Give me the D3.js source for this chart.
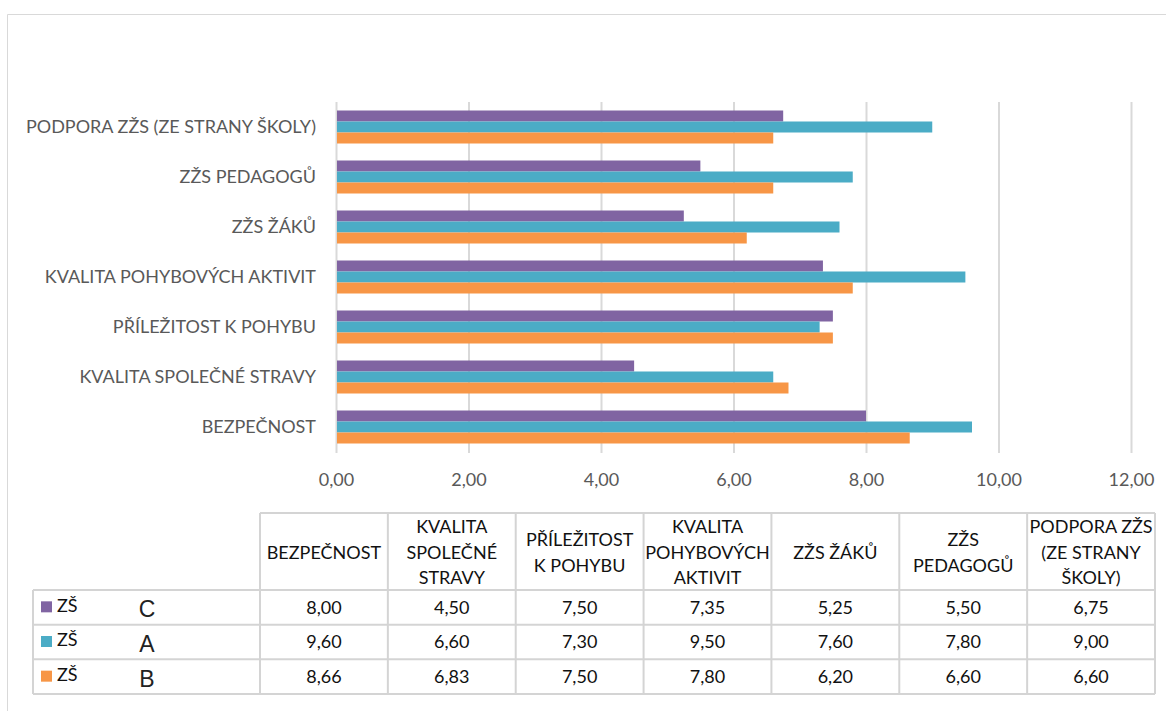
<!DOCTYPE html>
<html>
<head>
<meta charset="utf-8">
<script src="https://cdn.jsdelivr.net/npm/d3@7"></script>
<style>
  body { margin: 0; background: #fff; }
  svg { display: block; }
</style>
</head>
<body>
<div id="chart"></div>
<script>
// categories bottom -> top as in the table order
const categories = [
  "BEZPEČNOST",
  "KVALITA SPOLEČNÉ STRAVY",
  "PŘÍLEŽITOST K POHYBU",
  "KVALITA POHYBOVÝCH AKTIVIT",
  "ZŽS ŽÁKŮ",
  "ZŽS PEDAGOGŮ",
  "PODPORA ZŽS (ZE STRANY ŠKOLY)"
];
// wrapped header text used in the data table
const headerLines = [
  ["BEZPEČNOST"],
  ["KVALITA", "SPOLEČNÉ", "STRAVY"],
  ["PŘÍLEŽITOST", "K POHYBU"],
  ["KVALITA", "POHYBOVÝCH", "AKTIVIT"],
  ["ZŽS ŽÁKŮ"],
  ["ZŽS", "PEDAGOGŮ"],
  ["PODPORA ZŽS", "(ZE STRANY", "ŠKOLY)"]
];
const seriesNames = ["ZŠ C", "ZŠ A", "ZŠ B"];
const seriesLetters = ["C", "A", "B"];
const seriesColors = ["#8064A2", "#4BACC6", "#F79646"];
const valuesC = [8.00, 4.50, 7.50, 7.35, 5.25, 5.50, 6.75];
const valuesA = [9.60, 6.60, 7.30, 9.50, 7.60, 7.80, 9.00];
const valuesB = [8.66, 6.83, 7.50, 7.80, 6.20, 6.60, 6.60];
const xTicks = [0, 2, 4, 6, 8, 10, 12];

const series = [valuesC, valuesA, valuesB];
const W = 1166, H = 711;
const fmt = v => d3.format(".2f")(v).replace(".", ",");
const FONT = "Lato, 'Open Sans', sans-serif";

const svg = d3.select("#chart").append("svg")
  .attr("width", W).attr("height", H);

// outer frame
svg.append("path")
  .attr("d", `M7.5,${H} V14.5 H${W}`)
  .attr("fill", "none").attr("stroke", "#d9d9d9").attr("stroke-width", 1);

const plotTop = 102, plotBottom = 453;
const x = d3.scaleLinear().domain([0, 12]).range([336, 1131]);
const y = d3.scaleBand()
  .domain(categories.slice().reverse())
  .range([plotTop, plotBottom - 1])
  .paddingInner(0.34).paddingOuter(0.17);
const ySub = d3.scaleBand().domain(d3.range(3)).range([0, y.bandwidth()]);

// gridlines
const grid = svg.append("g")
  .attr("transform", `translate(0,${plotBottom})`)
  .call(d3.axisBottom(x).tickValues(xTicks).tickSize(-(plotBottom - plotTop)).tickFormat(""));
grid.select(".domain").remove();
grid.selectAll("line").attr("stroke", "#d9d9d9").attr("stroke-width", 2);

// bars
categories.forEach((cat, ci) => {
  svg.append("g")
    .attr("transform", `translate(0,${y(cat)})`)
    .selectAll("rect")
    .data(series.map((s, si) => ({ si, v: s[ci] })))
    .join("rect")
    .attr("x", x(0) + 1)
    .attr("y", d => ySub(d.si))
    .attr("width", d => x(d.v) - x(0) - 1)
    .attr("height", ySub.bandwidth())
    .attr("fill", d => seriesColors[d.si]);
});

// x labels
const xAxis = svg.append("g")
  .attr("transform", `translate(0,${plotBottom})`)
  .call(d3.axisBottom(x).tickValues(xTicks).tickSize(0).tickPadding(20).tickFormat(fmt));
xAxis.select(".domain").remove();
xAxis.selectAll("text")
  .attr("font-family", FONT).attr("font-size", 18).attr("fill", "#595959");

// category labels
const yAxis = svg.append("g")
  .attr("transform", `translate(${x(0)},0)`)
  .call(d3.axisLeft(y).tickSize(0).tickPadding(20));
yAxis.select(".domain").remove();
yAxis.selectAll("text")
  .attr("font-family", FONT).attr("font-size", 18).attr("fill", "#595959");

// data table
const tblLeft = 33, colLeft = 260, tblRight = 1155;
const headTop = 513, rowTop = 590, tblBottom = 694;
const col = d3.scaleBand().domain(d3.range(categories.length)).range([colLeft, tblRight]);
const row = d3.scaleBand().domain(d3.range(series.length)).range([rowTop, tblBottom]);
const tbl = svg.append("g");
const lineColor = "#d4d4d4";
const hline = (x1, x2, yy) => tbl.append("line").attr("x1", x1).attr("x2", x2).attr("y1", yy).attr("y2", yy)
  .attr("stroke", lineColor).attr("stroke-width", 2);
const vline = (xx, y1, y2) => tbl.append("line").attr("x1", xx).attr("x2", xx).attr("y1", y1).attr("y2", y2)
  .attr("stroke", lineColor).attr("stroke-width", 2);

hline(colLeft, tblRight, headTop);
hline(tblLeft, tblRight, rowTop);
series.forEach((s, i) => hline(tblLeft, tblRight, row(i) + row.bandwidth()));
vline(tblLeft, rowTop, tblBottom);
d3.range(categories.length + 1).forEach(i => vline(colLeft + i * col.step(), headTop, tblBottom));

// header text
const headMid = (headTop + rowTop) / 2 + 1;
headerLines.forEach((lines, i) => {
  const t = tbl.append("text")
    .attr("x", col(i) + col.bandwidth() / 2)
    .attr("text-anchor", "middle")
    .attr("font-family", FONT).attr("font-size", 18).attr("fill", "#111");
  lines.forEach((ln, k) => {
    t.append("tspan")
      .attr("x", col(i) + col.bandwidth() / 2)
      .attr("y", headMid + (k - (lines.length - 1) / 2) * 25.5)
      .attr("dy", "0.35em")
      .text(ln);
  });
});

// value cells and legend keys
series.forEach((s, si) => {
  const cy = row(si) + row.bandwidth() / 2;
  tbl.append("rect")
    .attr("x", 41).attr("y", cy - 6).attr("width", 11).attr("height", 11)
    .attr("fill", seriesColors[si]);
  tbl.append("text")
    .attr("x", 57).attr("y", cy - 2).attr("dy", "0.35em")
    .attr("font-family", FONT).attr("font-size", 18).attr("fill", "#111")
    .text(seriesNames[si].split(" ")[0]);
  tbl.append("text")
    .attr("x", 147).attr("y", cy + 2).attr("dy", "0.35em")
    .attr("text-anchor", "middle")
    .attr("font-family", "'Liberation Sans', Arial, sans-serif").attr("font-size", 23).attr("fill", "#222")
    .text(seriesLetters[si]);
  s.forEach((v, ci) => {
    tbl.append("text")
      .attr("x", col(ci) + col.bandwidth() / 2)
      .attr("y", cy).attr("dy", "0.35em")
      .attr("text-anchor", "middle")
      .attr("font-family", FONT).attr("font-size", 18).attr("fill", "#111")
      .text(fmt(v));
  });
});
</script>
</body>
</html>
